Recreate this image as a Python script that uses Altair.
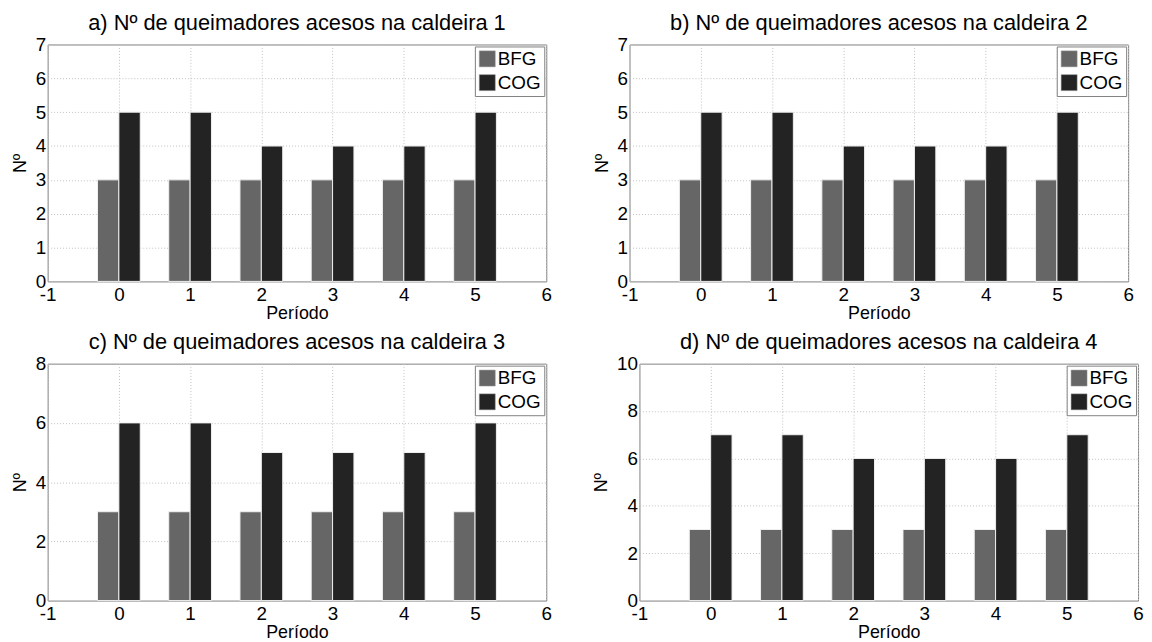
import altair as alt
import pandas as pd

periods = [0, 1, 2, 3, 4, 5]
gases = ["BFG", "COG"]

bfg_1 = [3, 3, 3, 3, 3, 3]
cog_1 = [5, 5, 4, 4, 4, 5]
bfg_2 = [3, 3, 3, 3, 3, 3]
cog_2 = [5, 5, 4, 4, 4, 5]
bfg_3 = [3, 3, 3, 3, 3, 3]
cog_3 = [6, 6, 5, 5, 5, 6]
bfg_4 = [3, 3, 3, 3, 3, 3]
cog_4 = [7, 7, 6, 6, 6, 7]

titles = [
    "a) Nº de queimadores acesos na caldeira 1",
    "b) Nº de queimadores acesos na caldeira 2",
    "c) Nº de queimadores acesos na caldeira 3",
    "d) Nº de queimadores acesos na caldeira 4",
]
y_max = [7, 7, 8, 10]
y_step = [1, 1, 2, 2]
x_ticks = [-1, 0, 1, 2, 3, 4, 5, 6]

FONT = "Liberation Sans"
W, H = 503, 239


def panel(title, bfg, cog, ymax, ystep):
    rows = []
    for p, b, c in zip(periods, bfg, cog):
        rows.append({"periodo": p, "gas": "BFG", "n": b})
        rows.append({"periodo": p, "gas": "COG", "n": c})
    df = pd.DataFrame(rows)
    yvals = list(range(0, ymax + 1, ystep))
    return (
        alt.Chart(df, title=alt.Title(title, fontSize=22, fontWeight="normal", font=FONT, offset=1))
        .transform_calculate(
            x0="datum.gas == 'BFG' ? datum.periodo - 0.3 : datum.periodo",
            x1="datum.gas == 'BFG' ? datum.periodo : datum.periodo + 0.3",
        )
        .mark_bar(stroke="#f0f0f0", strokeWidth=1)
        .encode(
            x=alt.X(
                "x0:Q",
                scale=alt.Scale(domain=[-1, 6], nice=False, zero=False),
                axis=alt.Axis(values=x_ticks, title="Período", labelFlush=False,
                              labelExpr="'' + datum.value"),
            ),
            x2="x1:Q",
            y=alt.Y(
                "n:Q",
                scale=alt.Scale(domain=[0, ymax], nice=False),
                axis=alt.Axis(values=yvals, title="Nº", labelFlush=False,
                              labelExpr="'' + datum.value"),
            ),
            y2=alt.datum(0),
            color=alt.Color(
                "gas:N",
                scale=alt.Scale(domain=gases, range=["#666666", "#232323"]),
                legend=alt.Legend(
                    title=None,
                    orient="top-right",
                    offset=2,
                    padding=3,
                    strokeColor="#808080",
                    fillColor="white",
                    symbolType="square",
                    symbolSize=260,
                    symbolStrokeColor="#999999",
                    symbolStrokeWidth=0.5,
                    labelFontSize=19,
                    labelFont=FONT,
                    labelColor="black",
                    rowPadding=4,
                    labelOffset=1,
                    cornerRadius=0,
                ),
            ),
        )
        .properties(width=W, height=H)
    )


pa = panel(titles[0], bfg_1, cog_1, y_max[0], y_step[0])
pb = panel(titles[1], bfg_2, cog_2, y_max[1], y_step[1])
pc = panel(titles[2], bfg_3, cog_3, y_max[2], y_step[2])
pd_ = panel(titles[3], bfg_4, cog_4, y_max[3], y_step[3])

row1 = alt.hconcat(pa, pb, spacing=40).resolve_scale(color="independent")
row2 = alt.hconcat(pc, pd_, spacing=40).resolve_scale(color="independent")

chart = (
    alt.vconcat(row1, row2, spacing=7)
    .resolve_scale(color="independent")
    .properties(padding={"left": 2, "top": 0, "right": 0, "bottom": 0})
    .configure(font=FONT)
    .configure_view(stroke="#808080", strokeWidth=1)
    .configure_axis(
        labelFontSize=19,
        labelColor="black",
        labelFont=FONT,
        titleFontSize=18,
        titleFont=FONT,
        titleFontWeight="normal",
        titleColor="black",
        domain=False,
        ticks=False,
        labelPadding=2,
        grid=True,
        gridColor="#c0c0c0",
        gridDash=[1, 2],
        gridWidth=1,
    )
    .configure_axisX(titlePadding=0, labelPadding=4)
    .configure_axisY(titlePadding=6)
)

chart.save("out.html", embed_options={"renderer": "svg", "actions": False})
